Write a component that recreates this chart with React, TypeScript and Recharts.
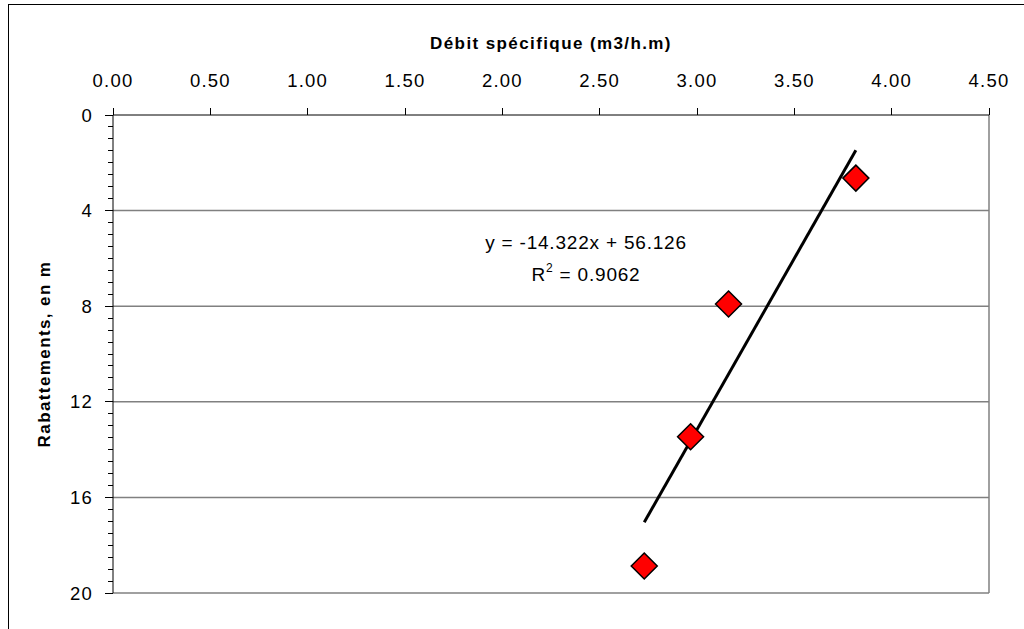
import React from "react";
import {
  ScatterChart,
  Scatter,
  XAxis,
  YAxis,
  CartesianGrid,
} from "recharts";

// Specific capacity (m3/h.m) against drawdown (m) for each test step
const debitSpecifique = [3.816, 3.162, 2.967, 2.729];
const rabattements = [2.64, 7.91, 13.46, 18.87];

// Linear fit reported on the chart: y = a·x + b
const fitSlope = -14.322;
const fitIntercept = 56.126;
const fitR2 = 0.9062;

const xTicks = [0, 0.5, 1, 1.5, 2, 2.5, 3, 3.5, 4, 4.5];
const yMajorTicks = [0, 4, 8, 12, 16, 20];
// minor tick every 0.5 m along the drawdown axis
const yAllTicks = Array.from({ length: 41 }, (_, i) => i * 0.5);

const points = debitSpecifique.map((x, i) => ({ x, y: rabattements[i] }));

const xMin = Math.min(...debitSpecifique);
const xMax = Math.max(...debitSpecifique);
const trend = [xMin, xMax].map((x) => ({ x, y: fitSlope * x + fitIntercept }));

const FONT = "'Liberation Sans', Arial, sans-serif";

const XTick = (props: any) => {
  const { x, y, payload } = props;
  return (
    <g>
      <line
        x1={x}
        x2={x}
        y1={y}
        y2={y - 7}
        stroke="#000"
        shapeRendering="crispEdges"
      />
      <text
        x={x}
        y={y - 28}
        textAnchor="middle"
        fontFamily={FONT}
        fontSize={18.5}
        letterSpacing={1.2}
        fill="#000"
      >
        {payload.value.toFixed(2)}
      </text>
    </g>
  );
};

const YTick = (props: any) => {
  const { x, y, payload } = props;
  const major = yMajorTicks.includes(payload.value);
  return (
    <g>
      <line
        x1={x - (major ? 8 : 5)}
        x2={x}
        y1={y}
        y2={y}
        stroke="#000"
        strokeWidth={1}
        shapeRendering="crispEdges"
      />
      {major && (
        <text
          x={x - 20}
          y={y + 6.6}
          textAnchor="end"
          fontFamily={FONT}
          fontSize={18.5}
          letterSpacing={1.2}
          fill="#000"
        >
          {payload.value}
        </text>
      )}
    </g>
  );
};

const Diamond = (props: any) => {
  const { cx, cy } = props;
  const r = 13;
  return (
    <polygon
      points={`${cx},${cy - r} ${cx + r},${cy} ${cx},${cy + r} ${cx - r},${cy}`}
      fill="#FF0000"
      stroke="#000"
      strokeWidth={1.5}
    />
  );
};

const NoDot = () => <g />;

export default function App() {
  return (
    <div
      style={{
        position: "absolute",
        left: 0,
        top: 0,
        width: 1024,
        height: 629,
        overflow: "hidden",
        background: "#fff",
      }}
    >
      {/* chart frame, runs off the right and bottom edges */}
      <div
        style={{
          position: "absolute",
          left: 8,
          top: 4,
          width: 1040,
          height: 660,
          border: "1px solid #000",
        }}
      />
      <div style={{ position: "absolute", left: 0, top: 0 }}>
        <ScatterChart
          width={1024}
          height={629}
          margin={{ top: 85, right: 35, bottom: 36, left: 83 }}
        >
          <CartesianGrid
            stroke="#808080"
            strokeWidth={1.5}
            horizontalValues={[4, 8, 12, 16, 20]}
            verticalValues={[4.5]}
            fill="none"
          />
          <XAxis
            type="number"
            dataKey="x"
            orientation="top"
            domain={[0, 4.5]}
            ticks={xTicks}
            interval={0}
            height={30}
            tickSize={0}
            tickMargin={0}
            tickLine={false}
            axisLine={{ stroke: "#000" }}
            tick={<XTick />}
            allowDataOverflow
          />
          <YAxis
            type="number"
            dataKey="y"
            reversed
            domain={[0, 20]}
            ticks={yAllTicks}
            interval={0}
            minTickGap={0}
            width={30}
            tickSize={0}
            tickMargin={0}
            tickLine={false}
            axisLine={{ stroke: "#000" }}
            tick={<YTick />}
            allowDataOverflow
          />
          <Scatter
            data={trend}
            line={{ stroke: "#000", strokeWidth: 3 }}
            shape={<NoDot />}
            legendType="none"
            isAnimationActive={false}
          />
          <Scatter
            data={points}
            shape={<Diamond />}
            isAnimationActive={false}
          />
        </ScatterChart>
      </div>
      <svg
        width={1024}
        height={629}
        style={{ position: "absolute", left: 0, top: 0, pointerEvents: "none" }}
        fontFamily={FONT}
      >
        <text
          x={551}
          y={49}
          textAnchor="middle"
          fontWeight="bold"
          fontSize={17}
          letterSpacing={1.4}
        >
          Débit spécifique (m3/h.m)
        </text>
        <text
          transform="translate(50 354) rotate(-90)"
          textAnchor="middle"
          fontWeight="bold"
          fontSize={17}
          letterSpacing={1.4}
        >
          Rabattements, en m
        </text>
        <text x={586} y={249} textAnchor="middle" fontSize={19} letterSpacing={0.8}>
          {`y = ${fitSlope}x + ${fitIntercept}`}
        </text>
        <text x={586} y={281} textAnchor="middle" fontSize={19} letterSpacing={0.8}>
          R<tspan dy={-9} fontSize={12}>2</tspan>
          <tspan dy={9}>{` = ${fitR2}`}</tspan>
        </text>
      </svg>
    </div>
  );
}
